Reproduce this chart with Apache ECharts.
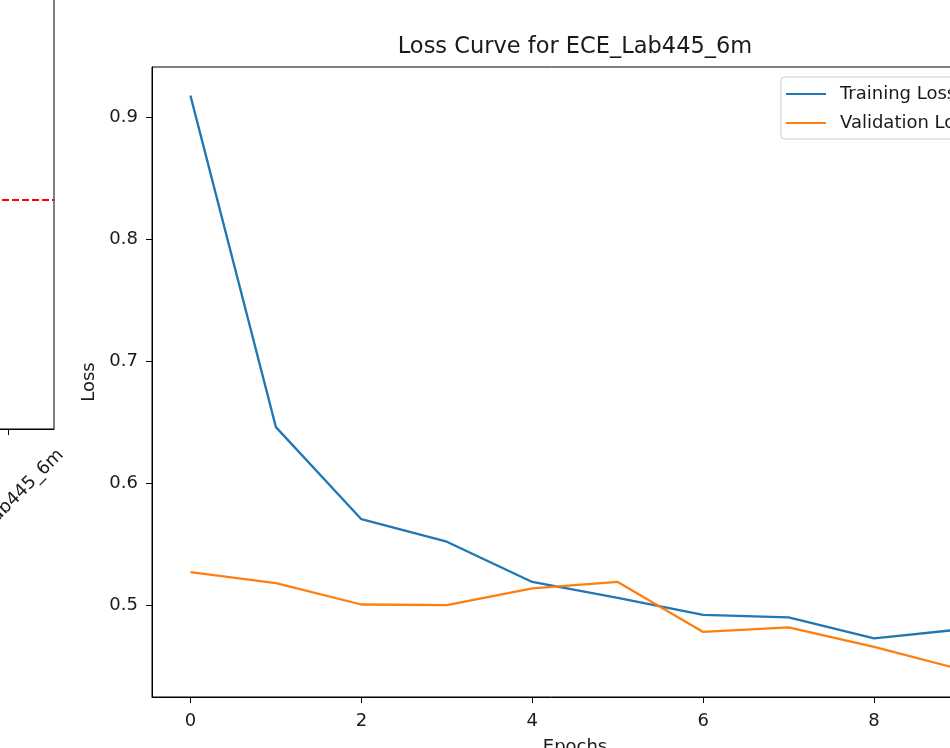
<!DOCTYPE html>
<html>
<head>
<meta charset="utf-8">
<script src="https://cdn.jsdelivr.net/npm/echarts@6/dist/echarts.min.js"></script>
<style>
html,body{margin:0;padding:0;background:#fff;}
#chart{width:950px;height:748px;}
</style>
</head>
<body>
<div id="chart"></div>
<script>
// ---- data ----
const epochs = [0, 1, 2, 3, 4, 5, 6, 7, 8, 9];
const trainLoss = [0.918, 0.646, 0.5705, 0.552, 0.519, 0.506, 0.492, 0.490, 0.4727, 0.480];
const valLoss = [0.527, 0.518, 0.5005, 0.500, 0.5137, 0.519, 0.478, 0.4817, 0.4658, 0.4475];
const xTicks = [0, 2, 4, 6, 8];
const yTicks = [0.5, 0.6, 0.7, 0.8, 0.9];
const xRange = [-0.45, 9.45];
const yRange = [0.4246, 0.9415];
const leftCategories = ['ECE_Lab445_6m'];
const leftThreshold = [0.448];
const titleText = 'Loss Curve for ECE_Lab445_6m';
const seriesNames = ['Training Loss', 'Validation Loss'];

const FONT = 'DejaVu Sans';
const TXT = '#1a1a1a';
const FS = 18;

const pairs = (xs, ys) => xs.map((x, i) => [x, ys[i]]);

const chart = echarts.init(document.getElementById('chart'), null, {renderer: 'canvas'});
chart.setOption({
  animation: false,
  backgroundColor: '#fff',
  textStyle: {fontFamily: FONT},
  title: {
    text: titleText,
    left: 575, top: 36, padding: 0,
    textAlign: 'center',
    textStyle: {fontFamily: FONT, fontSize: 22.5, fontWeight: 'normal', color: TXT}
  },
  legend: {
    orient: 'vertical',
    left: 781, top: 77,
    padding: [7, 8, 6, 5],
    itemGap: 9,
    itemWidth: 40, itemHeight: 2,
    icon: 'rect',
    backgroundColor: 'rgba(255,255,255,0.8)',
    borderColor: '#cccccc', borderWidth: 1, borderRadius: 3,
    textStyle: {fontFamily: FONT, fontSize: FS, color: TXT, lineHeight: 20, padding: [0, 0, 0, 9]},
    data: seriesNames
  },
  grid: [
    {left: 152, top: 67, width: 846, height: 630, show: true, borderColor: '#000', borderWidth: 1,
     backgroundColor: 'transparent', containLabel: false, outerBoundsMode: 'none'},
    {left: -38, top: -80, width: 92, height: 509, show: true, borderColor: '#000', borderWidth: 1,
     backgroundColor: 'transparent', containLabel: false, outerBoundsMode: 'none'}
  ],
  xAxis: [
    {
      type: 'value', gridIndex: 0, min: xRange[0], max: xRange[1],
      name: 'Epochs', nameLocation: 'middle', nameGap: 41,
      nameTextStyle: {fontFamily: FONT, fontSize: FS, color: TXT},
      axisLine: {show: true, onZero: false, lineStyle: {color: '#000', width: 1}},
      axisTick: {show: true, length: 6, lineStyle: {color: '#000'}, customValues: xTicks},
      axisLabel: {show: true, margin: 15, fontFamily: FONT, fontSize: FS, color: TXT, customValues: xTicks},
      splitLine: {show: false}
    },
    {
      type: 'category', gridIndex: 1, data: leftCategories,
      axisLine: {show: true, onZero: false, lineStyle: {color: '#000', width: 1}},
      axisTick: {show: true, length: 6, alignWithLabel: true, lineStyle: {color: '#000'}},
      axisLabel: {show: true, rotate: 45, align: 'center', verticalAlign: 'middle', margin: 76, fontFamily: FONT, fontSize: FS, color: TXT},
      splitLine: {show: false}
    }
  ],
  yAxis: [
    {
      type: 'value', gridIndex: 0, min: yRange[0], max: yRange[1],
      name: 'Loss', nameLocation: 'middle', nameGap: 51,
      nameTextStyle: {fontFamily: FONT, fontSize: FS, color: TXT},
      axisLine: {show: true, onZero: false, lineStyle: {color: '#000', width: 1}},
      axisTick: {show: true, length: 6, lineStyle: {color: '#000'}, customValues: yTicks},
      axisLabel: {show: true, margin: 14, fontFamily: FONT, fontSize: FS, color: TXT, customValues: yTicks,
        formatter: v => v.toFixed(1)},
      splitLine: {show: false}
    },
    {
      type: 'value', gridIndex: 1, min: 0, max: 1, show: false
    }
  ],
  series: [
    {
      name: seriesNames[0], type: 'line', xAxisIndex: 0, yAxisIndex: 0,
      data: pairs(epochs, trainLoss), showSymbol: false, symbol: 'none',
      color: '#1f77b4', lineStyle: {color: '#1f77b4', width: 2.3}, clip: true
    },
    {
      name: seriesNames[1], type: 'line', xAxisIndex: 0, yAxisIndex: 0,
      data: pairs(epochs, valLoss), showSymbol: false, symbol: 'none',
      color: '#ff7f0e', lineStyle: {color: '#ff7f0e', width: 2.3}, clip: true
    },
    {
      name: 'threshold', type: 'line', xAxisIndex: 1, yAxisIndex: 1, data: [],
      markLine: {
        silent: true, symbol: ['none', 'none'], label: {show: false},
        lineStyle: {color: '#ff0000', width: 2, type: [7, 3]},
        data: leftThreshold.map(v => ({yAxis: v}))
      }
    }
  ]
});
</script>
</body>
</html>
